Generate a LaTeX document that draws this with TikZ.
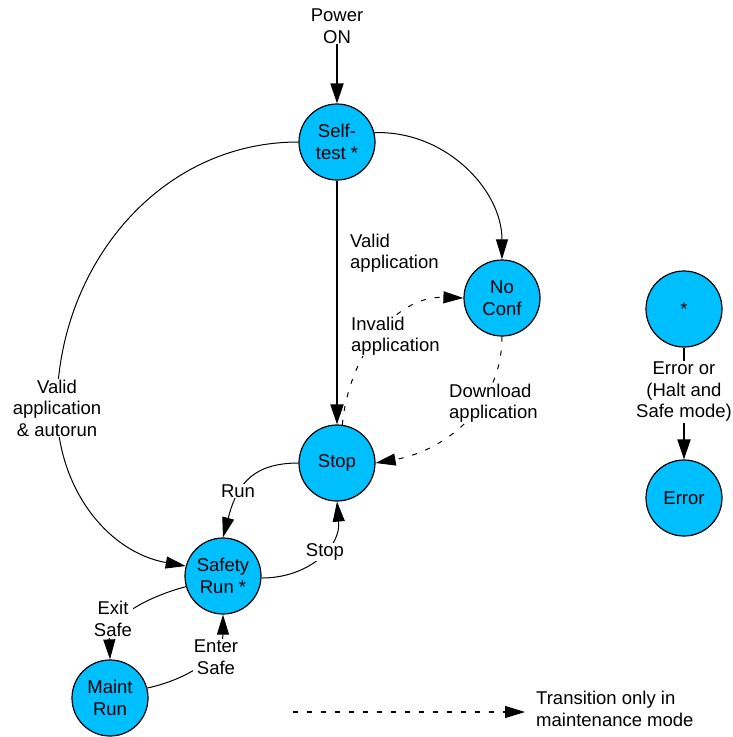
\documentclass[tikz,border=0pt]{standalone}
\usepackage{fontspec}
\setmainfont{Liberation Sans}
\usetikzlibrary{arrows.meta}
\definecolor{statefill}{RGB}{0,191,255}
\begin{document}
\begin{tikzpicture}[x=1pt,y=-1pt,
  txt/.style={font=\fontsize{18.5}{21.5}\selectfont},
  state/.style={txt,circle,draw,line width=1.2pt,fill=statefill,
    minimum size=76pt,inner sep=0pt,align=center},
  lbl/.style={txt,align=center,inner sep=1pt},
  cover/.style={fill=white},
  tr/.style={line width=1pt,-{Triangle[length=20pt,width=12pt]}},
  main/.style={line width=2pt,-{Triangle[length=20pt,width=13pt]}},
  maintonly/.style={tr,dash pattern=on 5pt off 9pt}]
\useasboundingbox (0,0) rectangle (733,737);

% states
\node[state] (self)   at (337,142) {Self-\\test *};
\node[state] (noconf) at (502,298) {No\\Conf};
\node[state] (stop)   at (337,463) {Stop};
\node[state] (safety) at (223,576) {Safety\\Run *};
\node[state] (maint)  at (110,698) {Maint\\Run};
\node[state] (star)   at (684,309) {*};
\node[state] (err)    at (684,498) {Error};

% power on
\node[lbl] (power) at (337,26) {Power\\ON};
\draw[main] (power) -- (self);

% self-test transitions
\draw[main] (self) -- (stop);
\node[lbl,anchor=west,align=left] (validapp) at (349,253) {Valid\\application};
\draw[tr] (self.14) to[out=2,in=90] (noconf.north);

\coordinate (autorun) at (57,408);
\draw[tr] (self.180) to[out=180,in=90] (autorun) to[out=-90,in=170] (safety.165);
\node[lbl,cover] (autolbl) at (autorun) {Valid\\application\\\& autorun};

% maintenance-only transitions
\draw[maintonly] (stop.82) to[out=85,in=178] (noconf.west);
\node[lbl,cover,anchor=west,align=left] (invalid) at (350,336) {Invalid\\application};
\draw[maintonly] (noconf.south) to[out=-90,in=10] (stop.east);
\node[lbl,cover,anchor=west,align=left] (download) at (448,403) {Download\\application};

% run / stop
\draw[tr] (stop.west) to[out=180,in=75,looseness=1.2] (safety.north);
\node[lbl,cover] (runlbl) at (238,491) {Run};
\draw[tr] (safety.-3) to[out=0,in=-85,looseness=1.1] (stop.south);
\node[lbl,cover] (stoplbl) at (325,552) {Stop};

% safe mode
\draw[tr] (safety.196) to[out=195,in=92] (maint.north);
\node[lbl,cover] (exitlbl) at (113,619) {Exit\\Safe};
\draw[tr] (maint.15) to[out=12,in=-90] (safety.south);
\node[lbl,cover] (enterlbl) at (216,657) {Enter\\Safe};

% error from any state
\draw[main] (star) -- (err);
\node[lbl,cover] (errlbl) at (684,392) {Error or\\(Halt and\\Safe mode)};

% legend
\coordinate (legS) at (293,712);
\coordinate (legE) at (525,712);
\draw[maintonly,line width=1.2pt] (legS) -- (legE);
\node[lbl,anchor=west,align=left] (legtext) at (535,709) {Transition only in\\maintenance mode};
\end{tikzpicture}
\end{document}
